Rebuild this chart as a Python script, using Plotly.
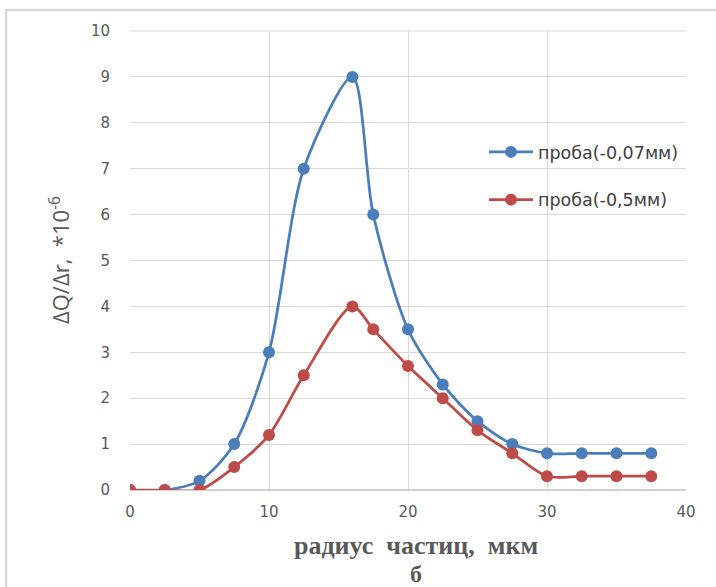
import plotly.graph_objects as go

radius = [0, 2.5, 5, 7.5, 10, 12.5, 16, 17.5, 20, 22.5, 25, 27.5, 30, 32.5, 35, 37.5]
sample_007 = [0, 0, 0.2, 1, 3, 7, 9, 6, 3.5, 2.3, 1.5, 1, 0.8, 0.8, 0.8, 0.8]
sample_05 = [0, 0, 0, 0.5, 1.2, 2.5, 4, 3.5, 2.7, 2, 1.3, 0.8, 0.3, 0.3, 0.3, 0.3]
names = ["проба(-0,07мм)", "проба(-0,5мм)"]
colors = ["#4a7ebb", "#be4b48"]

W, H = 716, 587
L, R, T, B = 130, 30, 31, 97

fig = go.Figure()
for i, (ys, nm, c) in enumerate([(sample_007, names[0], colors[0]), (sample_05, names[1], colors[1])]):
    fig.add_trace(go.Scatter(
        x=radius, y=ys, name=nm, mode="lines+markers",
        line=dict(color=c, width=2.75, shape="spline", smoothing=0.8),
        marker=dict(color=c, size=12),
        legendgroup=f"g{i}",
    ))

pw, ph = W - L - R, H - T - B
def px(p):
    return (p - L) / pw
def py(p):
    return (H - B - p) / ph

fig.update_layout(
    width=W, height=H,
    margin=dict(l=L, r=R, t=T, b=B),
    paper_bgcolor="white", plot_bgcolor="white",
    font=dict(family="DejaVu Sans, sans-serif", color="#595959"),
    showlegend=True,
    legend=dict(x=px(484), y=py(134), xanchor="left", yanchor="top",
                font=dict(size=17.5, color="#404040", family="DejaVu Sans, sans-serif"),
                tracegroupgap=22, itemwidth=44, bgcolor="rgba(0,0,0,0)"),
    xaxis=dict(range=[0, 40], tickvals=[0, 10, 20, 30, 40], showgrid=True,
               gridcolor="#d9d9d9", gridwidth=1, zeroline=False, showline=False,
               tickfont=dict(size=15, color="#595959", family="DejaVu Sans, sans-serif"),
               ticks="outside", ticklen=8, tickcolor="rgba(0,0,0,0)"),
    yaxis=dict(range=[0, 10], dtick=1, showgrid=True, gridcolor="#d9d9d9", gridwidth=1,
               zeroline=True, zerolinecolor="#d0d0d0", zerolinewidth=1.5, showline=False,
               tickfont=dict(size=15, color="#595959", family="DejaVu Sans, sans-serif"),
               ticks="outside", ticklen=16, tickcolor="rgba(0,0,0,0)"),
    annotations=[
        dict(text="ΔQ/Δr,  *10<sup>-6</sup>", xref="paper", yref="paper",
             x=px(59), y=py(260), xanchor="center", yanchor="middle",
             textangle=-90, showarrow=False,
             font=dict(size=22, color="#595959", family="Open Sans, sans-serif")),
        dict(text="<b>радиус  частиц,  мкм</b>", xref="paper", yref="paper",
             x=px(416), y=py(545), xanchor="center", yanchor="middle", showarrow=False,
             font=dict(size=26, color="#595959", family="Liberation Serif, serif")),
        dict(text="<b>б</b>", xref="paper", yref="paper",
             x=px(416), y=py(574), xanchor="center", yanchor="middle", showarrow=False,
             font=dict(size=24, color="#595959", family="Liberation Serif, serif")),
    ],
    shapes=[
        dict(type="rect", xref="paper", yref="paper",
             x0=px(6), x1=px(W + 20), y0=py(H + 20), y1=py(10),
             line=dict(color="#d9d9d9", width=2.5), layer="below"),
        dict(type="line", xref="paper", yref="paper", x0=0, x1=1, y0=1, y1=1,
             line=dict(color="#d9d9d9", width=1), layer="below"),
    ],
)

fig.write_html("out.html")
